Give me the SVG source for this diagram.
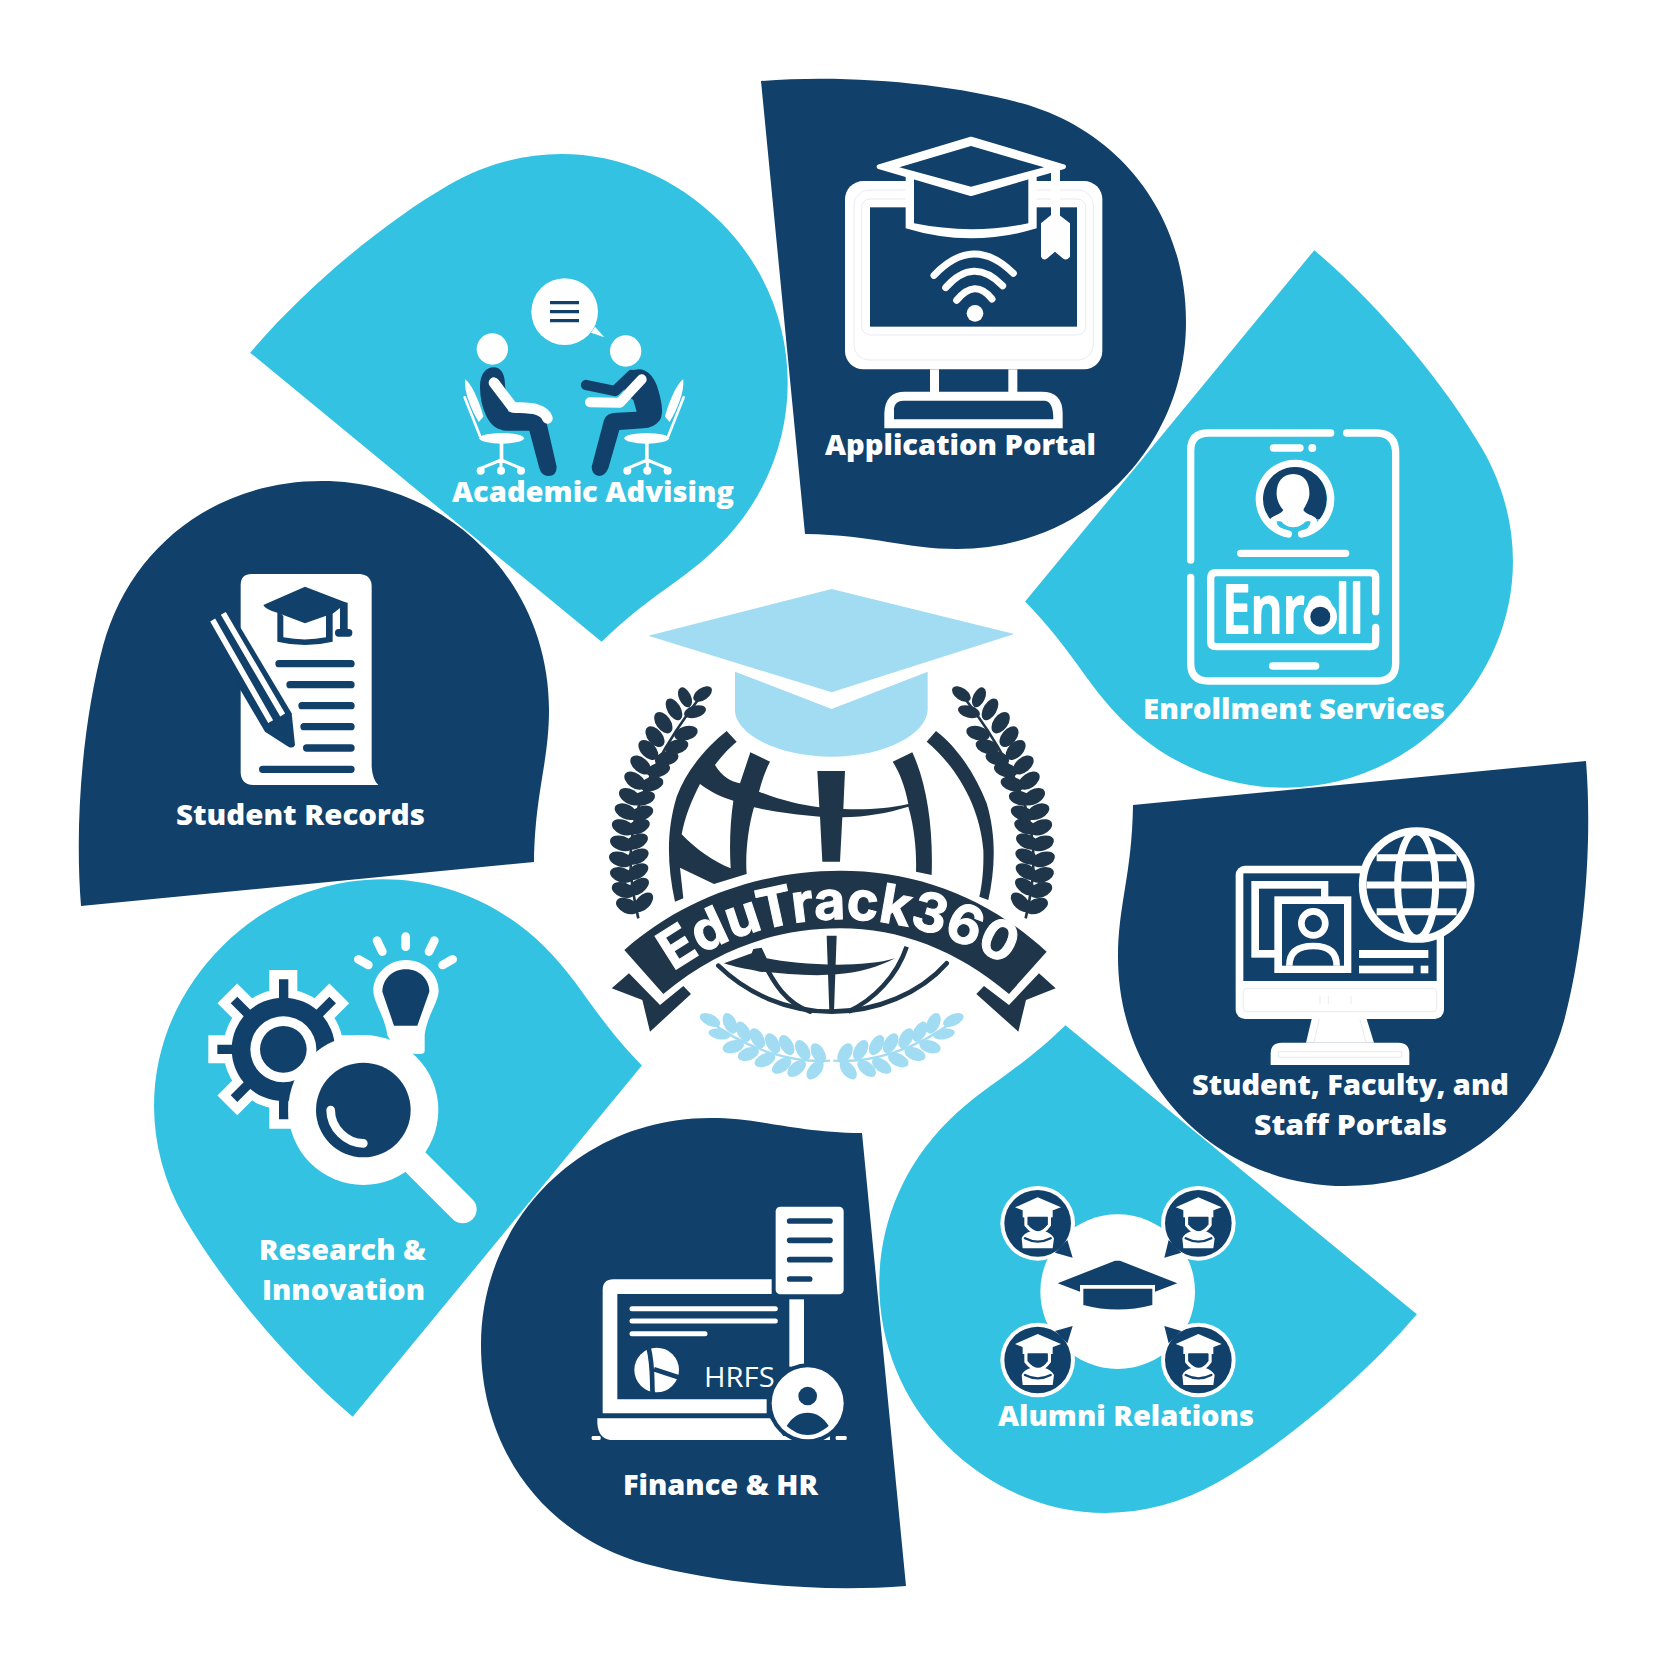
<svg xmlns="http://www.w3.org/2000/svg" xmlns:xlink="http://www.w3.org/1999/xlink" width="1667" height="1667" viewBox="0 0 1667 1667">
<style>
.navy{fill:#11406a}.cyan{fill:#33c2e2}.white{fill:#fff}.dark{fill:#1f364a}.light{fill:#a1dcf3}
.label{font-family:"Open Sans","Noto Sans",sans-serif;font-weight:800;font-size:29px;fill:#fff}
.ws{fill:none;stroke:#fff;stroke-linecap:round;stroke-linejoin:round}
.ns{fill:none;stroke:#11406a;stroke-linecap:round;stroke-linejoin:round}
.faint{fill:none;stroke:#dfe1ec;stroke-width:2}
</style>
<defs>
<path id="petal" d="M761,81 C850,74 950,84 1021,103 C1120,130 1186,215 1186,322 C1186,447 1086,549 957,549 C905,549 875,535 805,534 Z"/>
<g id="laurel" class="dark">
<path d="M175,1045 C130,850 130,680 365,375" fill="none" stroke="#1f364a" stroke-width="8"/>
<g id="laurelLeaves">
<ellipse cx="142" cy="1008" rx="36" ry="22" transform="rotate(25 142 1008)"/>
<ellipse cx="130" cy="960" rx="36" ry="22" transform="rotate(20 130 960)"/>
<ellipse cx="125" cy="915" rx="36" ry="22" transform="rotate(18 125 915)"/>
<ellipse cx="122" cy="868" rx="36" ry="22" transform="rotate(18 122 868)"/>
<ellipse cx="125" cy="820" rx="36" ry="22" transform="rotate(18 125 820)"/>
<ellipse cx="130" cy="772" rx="36" ry="22" transform="rotate(22 130 772)"/>
<ellipse cx="138" cy="725" rx="36" ry="22" transform="rotate(25 138 725)"/>
<ellipse cx="150" cy="680" rx="36" ry="22" transform="rotate(30 150 680)"/>
<ellipse cx="165" cy="632" rx="36" ry="22" transform="rotate(35 165 632)"/>
<ellipse cx="182" cy="585" rx="36" ry="22" transform="rotate(40 182 585)"/>
<ellipse cx="205" cy="540" rx="36" ry="22" transform="rotate(45 205 540)"/>
<ellipse cx="225" cy="500" rx="36" ry="22" transform="rotate(50 225 500)"/>
<ellipse cx="250" cy="458" rx="36" ry="22" transform="rotate(55 250 458)"/>
<ellipse cx="282" cy="418" rx="36" ry="20" transform="rotate(60 282 418)"/>
<ellipse cx="315" cy="382" rx="32" ry="18" transform="rotate(65 315 382)"/>
<ellipse cx="190" cy="997" rx="36" ry="21" transform="rotate(-45 190 997)"/>
<ellipse cx="175" cy="950" rx="36" ry="21" transform="rotate(-35 175 950)"/>
<ellipse cx="172" cy="905" rx="36" ry="21" transform="rotate(-30 172 905)"/>
<ellipse cx="172" cy="860" rx="36" ry="21" transform="rotate(-25 172 860)"/>
<ellipse cx="170" cy="815" rx="36" ry="21" transform="rotate(-25 170 815)"/>
<ellipse cx="175" cy="770" rx="36" ry="21" transform="rotate(-22 175 770)"/>
<ellipse cx="185" cy="730" rx="36" ry="21" transform="rotate(-20 185 730)"/>
<ellipse cx="190" cy="685" rx="36" ry="21" transform="rotate(-15 190 685)"/>
<ellipse cx="215" cy="642" rx="36" ry="21" transform="rotate(-15 215 642)"/>
<ellipse cx="235" cy="600" rx="36" ry="21" transform="rotate(-15 235 600)"/>
<ellipse cx="260" cy="565" rx="36" ry="21" transform="rotate(-15 260 565)"/>
<ellipse cx="290" cy="530" rx="36" ry="21" transform="rotate(-15 290 530)"/>
<ellipse cx="318" cy="490" rx="36" ry="21" transform="rotate(-15 318 490)"/>
<ellipse cx="345" cy="425" rx="34" ry="18" transform="rotate(-15 345 425)"/>
<ellipse cx="368" cy="372" rx="32" ry="18" transform="rotate(-35 368 372)"/>
</g>
</g>
<g id="wreath" class="light">
<path d="M750,1472 C640,1480 500,1440 385,1350" fill="none" stroke="#a1dcf3" stroke-width="7"/>
<ellipse cx="715" cy="1450" rx="33" ry="19" transform="rotate(60 715 1450)"/>
<ellipse cx="668" cy="1440" rx="33" ry="19" transform="rotate(60 668 1440)"/>
<ellipse cx="620" cy="1425" rx="33" ry="19" transform="rotate(60 620 1425)"/>
<ellipse cx="578" cy="1420" rx="33" ry="19" transform="rotate(60 578 1420)"/>
<ellipse cx="532" cy="1405" rx="33" ry="19" transform="rotate(60 532 1405)"/>
<ellipse cx="490" cy="1385" rx="33" ry="19" transform="rotate(60 490 1385)"/>
<ellipse cx="450" cy="1360" rx="33" ry="19" transform="rotate(65 450 1360)"/>
<ellipse cx="705" cy="1500" rx="33" ry="19" transform="rotate(-50 705 1500)"/>
<ellipse cx="650" cy="1495" rx="33" ry="19" transform="rotate(-40 650 1495)"/>
<ellipse cx="605" cy="1487" rx="33" ry="19" transform="rotate(-35 605 1487)"/>
<ellipse cx="555" cy="1470" rx="33" ry="19" transform="rotate(-25 555 1470)"/>
<ellipse cx="505" cy="1452" rx="33" ry="19" transform="rotate(-20 505 1452)"/>
<ellipse cx="460" cy="1430" rx="33" ry="19" transform="rotate(-15 460 1430)"/>
<ellipse cx="418" cy="1392" rx="33" ry="16" transform="rotate(10 418 1392)"/>
<ellipse cx="390" cy="1350" rx="33" ry="17" transform="rotate(25 390 1350)"/>
</g>
<g id="seated">
<path class="white" d="M105,358 C125,370 150,430 160,470 L146,486 C125,450 102,400 105,358Z"/>
<path class="ws" d="M104,412 L150,528" stroke-width="8"/>
<ellipse class="white" cx="215" cy="535" rx="67" ry="16"/>
<rect class="white" x="209" y="548" width="11" height="55"/>
<path class="ws" d="M152,625 L213,600 L273,625 M213,600 L213,628" stroke-width="9"/>
<circle class="white" cx="152" cy="632" r="12"/><circle class="white" cx="213" cy="632" r="12"/><circle class="white" cx="273" cy="632" r="12"/>
</g>
<g id="alum">
<circle class="white" cx="173" cy="160" r="112"/>
<circle class="navy" cx="173" cy="160" r="100"/>
<path class="white" d="M105,112 L173,82 L243,112 L173,138Z"/>
<path class="white" d="M128,112 L218,112 L218,142 L128,142Z"/>
<path class="ws" d="M138,135 L138,165 Q175,212 208,165 L208,135" stroke-width="10"/>
<path class="navy" d="M143,140 L203,140 L203,163 Q175,200 143,163Z"/>
<path class="white" d="M125,205 Q130,190 155,183 Q173,200 192,183 Q215,190 222,205 L218,235 L128,235 Z"/>
<path class="ns" d="M135,205 Q173,225 212,205" stroke-width="7"/>
</g>
</defs>

<g id="petals">
<use href="#petal" class="navy"/>
<use href="#petal" class="cyan" transform="rotate(45 833.5 833.5)"/>
<use href="#petal" class="navy" transform="rotate(90 833.5 833.5)"/>
<use href="#petal" class="cyan" transform="rotate(135 833.5 833.5)"/>
<use href="#petal" class="navy" transform="rotate(180 833.5 833.5)"/>
<use href="#petal" class="cyan" transform="rotate(225 833.5 833.5)"/>
<use href="#petal" class="navy" transform="rotate(270 833.5 833.5)"/>
<use href="#petal" class="cyan" transform="rotate(315 833.5 833.5)"/>
</g>

<g id="logo" transform="translate(580 570) scale(.33333)">
<path class="light" d="M205,197 L755,57 L1303,192 L755,367Z"/>
<path class="light" d="M465,305 L755,417 L1043,305 L1043,420 C1040,490 920,560 755,560 C590,560 465,490 465,420Z"/>
<use href="#laurel"/>
<use href="#laurel" transform="translate(1512 0) scale(-1 1)"/>
<path class="dark" fill-rule="evenodd" d="M440,483 L470,515 C440,540 420,565 405,585 C425,620 455,635 480,640 L511,547 L570,575 C555,605 545,635 537,665 C600,690 660,705 718,712 L712,603 L795,603 L790,717 C860,720 930,715 985,702 C975,650 960,610 938,575 L997,547 C1040,640 1060,770 1055,915 L1008,905 C1010,850 1005,780 985,710 C920,730 860,740 787,742 L780,875 L727,875 L720,740 C650,735 580,725 522,712 C505,770 495,850 500,912 L402,942 L300,893 L310,985 L285,995 C260,880 260,780 290,680 C320,600 380,530 440,483Z M360,642 C390,665 425,682 460,692 C450,760 448,830 452,895 C400,875 345,835 305,793 C315,740 335,690 360,642Z"/>
<path class="dark" d="M1068,483 L1040,515 C1130,590 1200,710 1210,840 C1212,900 1205,950 1198,980 L1225,990 C1245,900 1250,800 1220,700 C1185,610 1130,530 1068,483Z"/>
<path class="dark" d="M133,1140 C320,975 560,902 780,902 C1010,902 1220,980 1400,1145 L1287,1272 C1130,1140 960,1075 780,1075 C600,1075 420,1130 250,1272Z"/>
<path class="dark" d="M95,1255 L147,1210 L240,1305 L310,1248 L333,1272 L210,1385 L187,1290Z"/>
<path class="dark" d="M1427,1255 L1377,1210 L1287,1305 L1212,1248 L1189,1272 L1315,1385 L1338,1290Z"/>
<path id="bannerArc" d="M280,1205 C430,1095 620,1048 780,1048 C960,1048 1140,1100 1330,1215" fill="none"/>
<text font-family="Inter,'Open Sans',sans-serif" font-weight="700" font-size="162" fill="#fff" stroke="#fff" stroke-width="3"><textPath href="#bannerArc" startOffset="0">EduTrack360</textPath></text>
<path class="ws" style="stroke:#1f364a" d="M415,1187 C500,1270 620,1325 755,1325 C890,1325 1020,1270 1100,1180" stroke-width="14"/>
<path class="ws" style="stroke:#1f364a" d="M548,1170 C580,1240 620,1300 690,1325" stroke-width="14"/>
<path class="ws" style="stroke:#1f364a;stroke-linecap:butt" d="M980,1130 C950,1220 880,1290 805,1325" stroke-width="14"/>
<path class="dark" d="M432,1180 L515,1150 L520,1137 L545,1133 L560,1165 C650,1185 850,1195 945,1165 C900,1190 830,1210 770,1213 C690,1220 610,1210 540,1205 C500,1197 460,1190 432,1180Z"/>
<path class="dark" d="M740,1097 L770,1097 L762,1325 L748,1325Z"/>
<use href="#wreath"/>
<use href="#wreath" transform="translate(1510 0) scale(-1 1)"/>
</g>

<g id="node-application-portal">
<g transform="translate(780 120) scale(.33333)">
<rect class="white" x="195" y="183" width="772" height="565" rx="55"/>
<rect class="navy" x="270" y="262" width="621" height="358"/>
<rect class="faint" x="245" y="237" width="672" height="408" rx="25"/>
<rect class="faint" x="222" y="210" width="718" height="510" rx="45"/>
<rect class="white" x="450" y="748" width="27" height="70"/><rect class="white" x="685" y="748" width="27" height="70"/>
<path class="white" d="M313,925 L313,880 Q315,815 375,815 L785,815 Q848,815 848,880 L848,925Z"/>
<path class="navy" d="M342,898 L342,865 Q345,842 370,842 L795,842 Q820,845 820,898Z"/>
<path class="white" d="M377,170 L377,325 Q573,385 770,325 L770,170Z"/>
<path class="navy" d="M402,175 L745,175 L745,310 Q573,345 402,310Z"/>
<path class="white ws" style="fill:#fff" stroke-width="14" d="M297,140 L573,57 L851,140 L573,221Z"/>
<path class="navy" d="M358,142 L573,78 L792,142 L573,200Z"/>
<rect class="white" x="813" y="150" width="27" height="140"/>
<path class="white" d="M783,310 L825,275 L870,310 L870,410 Q860,424 848,415 L825,395 L802,415 Q790,424 783,410Z"/>
<path class="ws" d="M462,466 Q580,341 700,460 M497,503 Q580,408 668,497 M530,541 Q585,474 636,537" stroke-width="21"/>
<circle class="white" cx="585" cy="580" r="25"/>
</g>
<text class="label" x="825" y="455" textLength="271" lengthAdjust="spacingAndGlyphs">Application Portal</text>
</g>

<g id="node-enrollment-services">
<g transform="translate(1170 420) scale(.33333)">
<path class="ws" d="M482,39 L115,39 Q62,39 62,92 L62,420 M62,472 L62,730 Q62,783 115,783 L620,783 Q677,783 677,730 L677,100 Q677,39 620,39 L530,39" stroke-width="22"/>
<path class="ws" d="M310,84 L390,84 M212,400 L527,400 M308,738 L437,738" stroke-width="22"/>
<circle class="white" cx="427" cy="84" r="12"/>
<path class="navy" d="M290,297 A100,100 0 1 1 450,297Z"/>
<path class="ws" d="M355,342 A107,107 0 1 1 395,342" stroke-width="22"/>
<path class="white" d="M370,162 C405,162 420,190 418,225 C416,245 405,258 400,270 C410,285 430,285 440,300 L400,305 Q370,320 340,305 L300,300 C310,285 330,285 340,270 C330,258 322,245 320,225 C318,190 335,162 370,162Z"/>
<path class="ws" d="M310,305 Q315,335 352,342 M432,305 Q425,335 398,342 M310,300 Q335,285 345,303 Q370,322 395,303 Q410,285 430,300" stroke-width="18"/>
<path class="ws" d="M617,575 L617,472 Q617,458 600,458 L138,458 Q122,458 122,475 L122,665 Q122,680 140,680 L600,680 Q617,680 617,665 L617,622" stroke-width="22"/>
<text y="640" x="157" textLength="424" lengthAdjust="spacingAndGlyphs" font-family="'Open Sans',sans-serif" font-weight="600" font-size="200" fill="#fff" stroke="#fff" stroke-width="6" stroke-linejoin="round">Enroll</text>
<circle class="white" cx="451" cy="590" r="50"/>
<circle class="navy" cx="451" cy="590" r="30"/>
</g>
<text class="label" x="1143" y="719" textLength="302" lengthAdjust="spacingAndGlyphs">Enrollment Services</text>
</g>

<g id="node-portals">
<g transform="translate(1220 820) scale(.33333)">
<rect class="white" x="47" y="137" width="625" height="460" rx="28"/>
<rect class="navy" x="70" y="160" width="580" height="323"/>
<rect class="faint" x="70" y="505" width="580" height="70" rx="10"/>
<path class="faint" d="M300,528 V552 M325,528 V552 M393,528 V552"/>
<path class="white" d="M275,597 L440,597 L462,668 L258,668Z"/>
<path class="faint" d="M298,597 L282,668 L438,668 L420,597"/>
<path class="white" d="M152,735 L152,700 Q152,668 185,668 L535,668 Q568,668 568,700 L568,735Z"/>
<path class="faint" d="M175,712 L175,695 L545,695 L545,712 Z"/>
<rect class="white" x="94" y="183" width="231" height="230"/><rect class="navy" x="117" y="206" width="186" height="184"/>
<rect class="white" x="163" y="229" width="231" height="230"/><rect class="navy" x="186" y="252" width="186" height="185"/>
<circle cx="280" cy="310" r="36" class="ws" stroke-width="20"/>
<path class="ws" style="stroke-linecap:butt" d="M208,437 Q208,378 280,378 Q350,378 350,437" stroke-width="20"/>
<rect class="white" x="417" y="390" width="208" height="24"/><rect class="white" x="417" y="437" width="163" height="23"/><rect class="white" x="602" y="437" width="23" height="23"/>
<circle class="navy" cx="590" cy="195" r="162" stroke="#fff" stroke-width="23"/>
<ellipse cx="590" cy="195" rx="57" ry="160" class="ws" stroke-width="21"/>
<path class="ws" style="stroke-linecap:butt" d="M470,113 H710 M440,195 H740 M470,275 H710" stroke-width="21"/>
</g>
<text class="label" x="1192" y="1095" textLength="317" lengthAdjust="spacingAndGlyphs">Student, Faculty, and</text>
<text class="label" x="1254" y="1135" textLength="193" lengthAdjust="spacingAndGlyphs">Staff Portals</text>
</g>

<g id="node-alumni-relations">
<g transform="translate(980 1170) scale(.33333)">
<circle class="white" cx="413" cy="365" r="232"/>
<path class="navy" d="M233,340 L405,272 L420,272 L592,340 L525,365 L525,345 L300,345 L300,365Z"/>
<path class="navy" d="M310,356 L517,356 L517,405 Q413,432 310,405Z"/>
<use href="#alum"/>
<use href="#alum" transform="translate(482 0)"/>
<use href="#alum" transform="translate(0 410)"/>
<use href="#alum" transform="translate(482 410)"/>
<path class="navy" d="M262,210 L278,263 L225,248Z M566,210 L553,263 L604,248Z M262,520 L278,468 L225,483Z M566,520 L553,468 L604,483Z"/>
</g>
<text class="label" x="998" y="1426" textLength="256" lengthAdjust="spacingAndGlyphs">Alumni Relations</text>
</g>

<g id="node-finance-hr">
<g transform="translate(580 1190) scale(.33333)">
<path class="white" d="M68,670 L68,300 Q68,268 100,268 L575,268 L575,312 L112,312 L112,628 L560,628 L560,670Z"/>
<rect class="white" x="628" y="328" width="44" height="202"/>
<path class="white" d="M52,685 L570,685 L610,738 L750,738 L750,750 L90,750 Q55,745 52,700Z"/>
<rect class="white" x="35" y="738" width="27" height="12" rx="4"/><rect class="white" x="767" y="738" width="33" height="12" rx="4"/>
<path class="ws" d="M156,356 H586 M156,393 H586 M156,431 H375" stroke-width="15"/>
<rect class="white" x="587" y="50" width="204" height="263" rx="14"/>
<path class="ns" d="M629,93 H750 M629,151 H750 M629,209 H750 M629,267 H689" stroke-width="17"/>
<circle class="white" cx="230" cy="540" r="67"/>
<path class="ns" style="stroke-linecap:butt" d="M205,470 C220,530 215,570 218,612 M222,538 L302,564" stroke-width="14"/>
<text x="372" y="592" font-family="'Open Sans',sans-serif" font-size="80" fill="#fff" textLength="212" lengthAdjust="spacingAndGlyphs">HRFS</text>
<circle class="navy" cx="683" cy="640" r="120"/>
<circle class="white" cx="683" cy="640" r="108"/>
<circle class="navy" cx="683" cy="618" r="28"/>
<path class="navy" d="M620,708 C650,655 715,655 746,708 C725,725 705,735 683,735 C660,735 640,725 620,708Z"/>
</g>
<text class="label" x="623" y="1495" textLength="195" lengthAdjust="spacingAndGlyphs">Finance &amp; HR</text>
</g>

<g id="node-research-innovation">
<g transform="translate(190 920) scale(.33333)">
<g stroke="#fff" stroke-width="84"><path d="M280,150 V626 M55,388 H518 M112,220 L448,556 M112,556 L448,220"/></g>
<circle class="white" cx="280" cy="388" r="180"/>
<g stroke="#11406a" stroke-width="28"><path d="M281,178 V598 M82,388 H488 M132,240 L428,536 M132,536 L428,240"/></g>
<circle class="navy" cx="280" cy="388" r="155"/>
<circle class="white" cx="280" cy="388" r="99"/>
<circle class="navy" cx="280" cy="388" r="70"/>
<path class="white" d="M648,120 C705,120 746,165 746,212 C746,245 710,290 704,345 L704,392 Q704,402 690,402 L620,400 L592,345 C585,290 550,245 550,212 C550,165 592,120 648,120Z"/>
<path class="navy" d="M648,148 C690,148 718,180 718,215 L682,317 L612,317 L577,215 C577,180 605,148 648,148Z"/>
<path class="ws" d="M505,118 L535,135 M561,62 L577,95 M647,50 L647,80 M733,62 L717,95 M788,118 L758,135" stroke-width="26"/>
<path class="ws" d="M680,730 L818,868" stroke-width="84"/>
<circle class="white" cx="520" cy="570" r="225"/>
<circle class="navy" cx="520" cy="570" r="142"/>
<path class="ws" d="M422,570 C422,625 470,670 520,670" stroke-width="26"/>
</g>
<text class="label" x="259" y="1260" textLength="167" lengthAdjust="spacingAndGlyphs">Research &amp;</text>
<text class="label" x="262" y="1300" textLength="163" lengthAdjust="spacingAndGlyphs">Innovation</text>
</g>

<g id="node-student-records">
<g transform="translate(200 560) scale(.33333)">
<path class="white" d="M122,75 Q122,42 155,42 L480,42 Q515,45 515,80 L515,620 Q518,660 535,675 L160,675 Q125,675 122,640Z"/>
<path class="navy" d="M120,200 L275,460 L285,555 Q280,567 265,560 L195,515 L120,388Z"/>
<path class="ws" style="stroke-linecap:butt" d="M38,180 L212,485 M70,160 L248,465" stroke-width="17"/>
<path class="navy" d="M190,135 L315,80 L440,128 L400,160 L315,190 L232,158 Q195,148 190,135Z"/>
<path class="navy" d="M232,150 L232,245 Q315,265 398,245 L398,155 L378,165 L378,232 Q315,245 250,232 L250,168Z"/>
<rect class="navy" x="420" y="128" width="23" height="87"/><rect class="navy" x="405" y="207" width="52" height="23" rx="11"/>
<path class="ns" d="M237,311 H453 M270,374 H453 M306,437 H453 M312,500 H453 M320,564 H453 M188,628 H453" stroke-width="22"/>
</g>
<text class="label" x="176" y="825" textLength="249" lengthAdjust="spacingAndGlyphs">Student Records</text>
</g>

<g id="node-academic-advising">
<g transform="translate(430 260) scale(.33333)">
<circle class="white" cx="404" cy="155" r="100"/>
<path class="white" d="M483,218 L495,200 L523,232Z"/>
<path class="navy" d="M360,123 H447 V133 H360Z M360,150 H447 V160 H360Z M360,177 H447 V187 H360Z"/>
<circle class="white" cx="187" cy="267" r="47"/>
<circle class="white" cx="587" cy="273" r="47"/>
<use href="#seated"/>
<use href="#seated" transform="translate(865 0) scale(-1 1)"/>
<path class="navy" d="M150,380 C150,340 170,322 190,322 C215,322 225,345 225,375 L235,455 L330,458 Q350,470 350,490 L380,620 Q380,648 355,648 Q335,648 328,625 L298,512 L230,512 Q190,510 170,470 Q150,430 150,380Z"/>
<path class="ws" d="M192,368 L248,442 C290,445 340,440 352,475" stroke-width="32"/>
<path class="ns" d="M468,375 L555,393 L605,345" stroke-width="31"/>
<path class="navy" d="M600,335 C640,315 665,340 680,375 C695,420 702,460 690,480 Q670,505 640,505 L568,510 L535,625 Q525,648 507,648 Q485,645 485,620 L522,480 Q530,458 560,458 L620,455 L610,420 L580,400Z"/>
<path class="ws" d="M635,358 L570,428 L480,427" stroke-width="30"/>
</g>
<text class="label" x="452" y="502" textLength="282" lengthAdjust="spacingAndGlyphs">Academic Advising</text>
</g>
</svg>
